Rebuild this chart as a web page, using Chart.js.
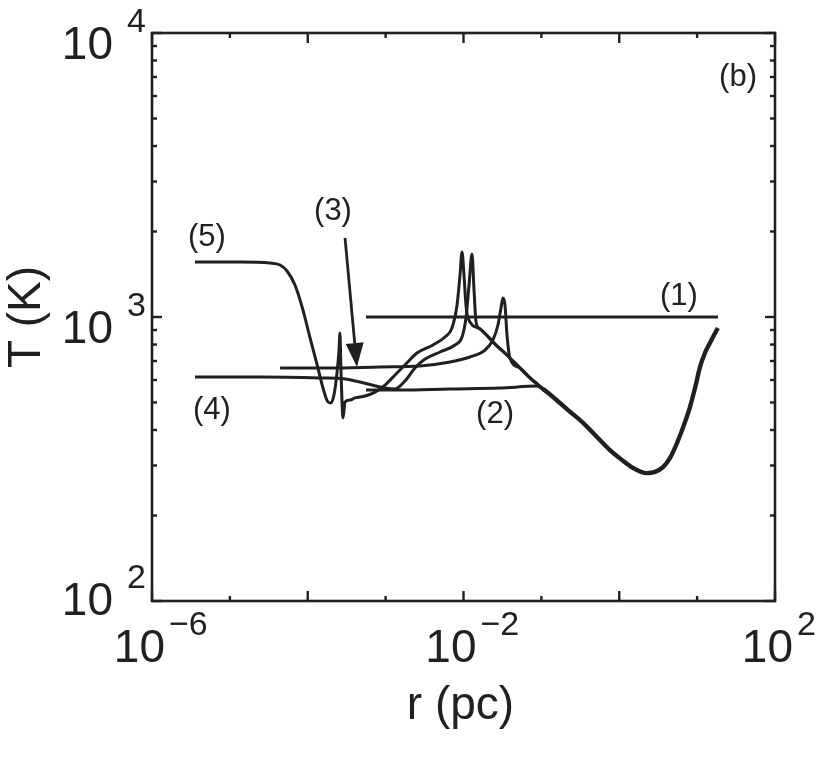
<!DOCTYPE html>
<html>
<head>
<meta charset="utf-8">
<script src="https://cdn.jsdelivr.net/npm/chart.js@4.4.1/dist/chart.umd.min.js"></script>
<style>
  body { margin: 0; background: #fff; }
  canvas { display: block; }
</style>
</head>
<body>
<canvas id="tempChart" width="830" height="781"></canvas>
<script>
// Curve data: r in pc, T in K
const rOne = [5.6e-4, 18.5];
const tOne = [1000, 1000];

const rTwo = [5.6e-4, 1.53e-3, 6.71e-3, 0.0294, 0.0879, 0.111];
const tTwo = [553, 553, 558, 562, 571, 549];

const rThree = [4.41e-5, 1.93e-4, 8.47e-4, 2.76e-3, 6.71e-3, 0.0121, 0.0189, 0.0239, 0.0277, 0.0303, 0.0321, 0.0341, 0.0362, 0.0395, 0.0532, 0.0715, 0.105];
const tThree = [661, 661, 667, 672, 694, 723, 765, 830, 937, 1076, 1167, 1102, 864, 717, 661, 610, 558];

const rFour = [3.56e-6, 2.44e-5, 1.44e-4, 3.01e-4, 4.69e-4, 6.68e-4, 9.82e-4, 1.32e-3, 1.77e-3, 2.38e-3, 3.21e-3, 4.99e-3, 7.78e-3, 9.57e-3, 0.01076, 0.01178, 0.01285, 0.01365, 0.01449, 0.0163, 0.0254, 0.0372, 0.0532, 0.0715, 0.105];
const tFour = [615, 615, 610, 605, 590, 576, 562, 558, 595, 661, 711, 753, 797, 850, 992, 1296, 1667, 1245, 960, 908, 803, 729, 661, 610, 558];

const rFive = [3.56e-6, 1.35e-5, 3.27e-5, 4.41e-5, 5.42e-5, 6.85e-5, 8.69e-5, 1.07e-4, 1.32e-4, 1.57e-4, 1.82e-4, 1.99e-4, 2.17e-4, 2.38e-4, 2.52e-4, 2.59e-4, 2.67e-4, 2.84e-4, 3.01e-4, 3.49e-4, 4.05e-4, 5.43e-4, 7.31e-4, 9.82e-4, 1.32e-3, 1.77e-3, 2.53e-3, 4.06e-3, 5.78e-3, 7.11e-3, 8.26e-3, 9.02e-3, 9.57e-3, 0.01014, 0.01076, 0.01143, 0.0163, 0.0254, 0.0372, 0.0532, 0.0715, 0.105];
const tFive = [1562, 1562, 1549, 1524, 1452, 1296, 1058, 844, 678, 562, 502, 498, 531, 640, 765, 878, 651, 441, 502, 510, 519, 527, 544, 576, 625, 678, 747, 797, 850, 915, 1102, 1406, 1694, 1406, 1102, 992, 908, 803, 729, 661, 610, 558];

// shared outer profile where curves (2)-(5) overlap
const rTail = [0.105, 0.141, 0.220, 0.343, 0.518, 0.760, 1.08, 1.50, 1.90, 2.27, 2.88, 3.65, 4.49, 5.52, 6.78, 8.09, 9.40, 10.9, 12.6, 14.6, 16.5, 18.5];
const tTail = [558, 523, 470, 424, 378, 340, 314, 294, 285, 282, 285, 296, 319, 360, 417, 482, 562, 667, 747, 810, 864, 915];

// axes
const xMajorTicks = [1e-6, 1e-4, 1e-2, 1, 1e2];
const xMinorTicks = [1e-5, 1e-3, 1e-1, 10];
const xLabelExps = [-6, -2, 2];
const yMajorTicks = [100, 1000, 10000];
const yMinorTicks = [200, 300, 400, 500, 600, 700, 800, 900, 2000, 3000, 4000, 5000, 6000, 7000, 8000, 9000];
const yLabelExps = [2, 3, 4];

// curve labels: text, r, T
const curveLabels = ['(5)', '(3)', '(4)', '(2)', '(1)', '(b)'];
const labelR = [5.08e-6, 2.11e-4, 5.89e-6, 0.0254, 5.85, 33.5];
const labelT = [1913, 2361, 470, 455, 1186, 6998];

// arrow for (3): from -> to
const arrowR = [3.01e-4, 4.28e-4];
const arrowT = [1898, 667];

const INK = '#231f20';
const FONT = '"Liberation Sans", Arial, Helvetica, sans-serif';

function pts(rs, ts) {
    return rs.map((r, i) => ({ x: r, y: ts[i] }));
}

function curve(rs, ts, width) {
    return {
        data: pts(rs, ts),
        borderColor: INK,
        borderWidth: width,
        pointRadius: 0,
        fill: false,
        cubicInterpolationMode: 'monotone',
        borderCapStyle: 'butt',
        borderJoinStyle: 'round'
    };
}

function supLabel(ctx, base, exp, x, y, align) {
    // "10" with a superscript exponent
    ctx.font = '46px ' + FONT;
    ctx.textBaseline = 'alphabetic';
    ctx.textAlign = 'right';
    ctx.fillText(base, x, y);
    ctx.font = '34px ' + FONT;
    ctx.textAlign = 'left';
    const e = exp < 0 ? '\u2212' + Math.abs(exp) : String(exp);
    ctx.fillText(e, x + (align === 'y' ? 14 : 4), y - 27);
}

const framePlugin = {
    id: 'frame',
    afterDraw(chart) {
        const ctx = chart.ctx;
        const xs = chart.scales.x;
        const ys = chart.scales.y;
        const a = chart.chartArea;
        ctx.save();
        ctx.strokeStyle = INK;
        ctx.fillStyle = INK;
        ctx.lineWidth = 2.6;
        ctx.strokeRect(a.left, a.top, a.right - a.left, a.bottom - a.top);

        // inward ticks
        ctx.lineWidth = 2.4;
        const tick = (x1, y1, x2, y2) => {
            ctx.beginPath();
            ctx.moveTo(x1, y1);
            ctx.lineTo(x2, y2);
            ctx.stroke();
        };
        xMajorTicks.forEach(v => {
            const px = xs.getPixelForValue(v);
            tick(px, a.bottom, px, a.bottom - 10);
            tick(px, a.top, px, a.top + 10);
        });
        xMinorTicks.forEach(v => {
            const px = xs.getPixelForValue(v);
            tick(px, a.bottom, px, a.bottom - 5);
            tick(px, a.top, px, a.top + 5);
        });
        yMajorTicks.forEach(v => {
            const py = ys.getPixelForValue(v);
            tick(a.left, py, a.left + 10, py);
            tick(a.right, py, a.right - 10, py);
        });
        yMinorTicks.forEach(v => {
            const py = ys.getPixelForValue(v);
            tick(a.left, py, a.left + 5, py);
            tick(a.right, py, a.right - 5, py);
        });

        // tick labels
        xLabelExps.forEach(e => {
            const px = xs.getPixelForValue(Math.pow(10, e));
            const shift = e === 2 ? 18 : 13;
            supLabel(ctx, '10', e, px + shift, a.bottom + 61, 'x');
        });
        yLabelExps.forEach(e => {
            const py = ys.getPixelForValue(Math.pow(10, e));
            const off = e === 2 ? 14 : 26;
            supLabel(ctx, '10', e, a.left - 39, py + off, 'y');
        });

        // axis titles
        ctx.font = '46px ' + FONT;
        ctx.textAlign = 'center';
        ctx.textBaseline = 'middle';
        ctx.fillText('r (pc)', (a.left + a.right) / 2 - 3, 706);
        ctx.save();
        ctx.translate(27, (a.top + a.bottom) / 2);
        ctx.rotate(-Math.PI / 2);
        ctx.fillText('T (K)', 0, 0);
        ctx.restore();

        // curve labels
        ctx.font = '31px ' + FONT;
        curveLabels.forEach((t, i) => {
            ctx.fillText(t, xs.getPixelForValue(labelR[i]), ys.getPixelForValue(labelT[i]));
        });

        // arrow
        const x0 = xs.getPixelForValue(arrowR[0]);
        const y0 = ys.getPixelForValue(arrowT[0]);
        const x1 = xs.getPixelForValue(arrowR[1]);
        const y1 = ys.getPixelForValue(arrowT[1]);
        const ang = Math.atan2(y1 - y0, x1 - x0);
        const headLen = 24, headW = 9;
        const bx = x1 - headLen * Math.cos(ang);
        const by = y1 - headLen * Math.sin(ang);
        ctx.lineWidth = 2.8;
        tick(x0, y0, bx, by);
        ctx.beginPath();
        ctx.moveTo(x1, y1);
        ctx.lineTo(bx + headW * Math.sin(ang), by - headW * Math.cos(ang));
        ctx.lineTo(bx - headW * Math.sin(ang), by + headW * Math.cos(ang));
        ctx.closePath();
        ctx.fill();
        ctx.restore();
    }
};

new Chart(document.getElementById('tempChart'), {
    type: 'line',
    data: {
        datasets: [
            curve(rOne, tOne, 3),
            curve(rTwo, tTwo, 3),
            curve(rThree, tThree, 3),
            curve(rFour, tFour, 3),
            curve(rFive, tFive, 3),
            curve(rTail, tTail, 4.4)
        ]
    },
    options: {
        responsive: false,
        animation: false,
        devicePixelRatio: 1,
        layout: {
            padding: { left: 152, right: 55, top: 33, bottom: 180 }
        },
        scales: {
            x: { type: 'logarithmic', min: 1e-6, max: 1e2, display: false },
            y: { type: 'logarithmic', min: 100, max: 10000, display: false }
        },
        plugins: {
            legend: { display: false },
            tooltip: { enabled: false }
        }
    },
    plugins: [framePlugin]
});
</script>
</body>
</html>
